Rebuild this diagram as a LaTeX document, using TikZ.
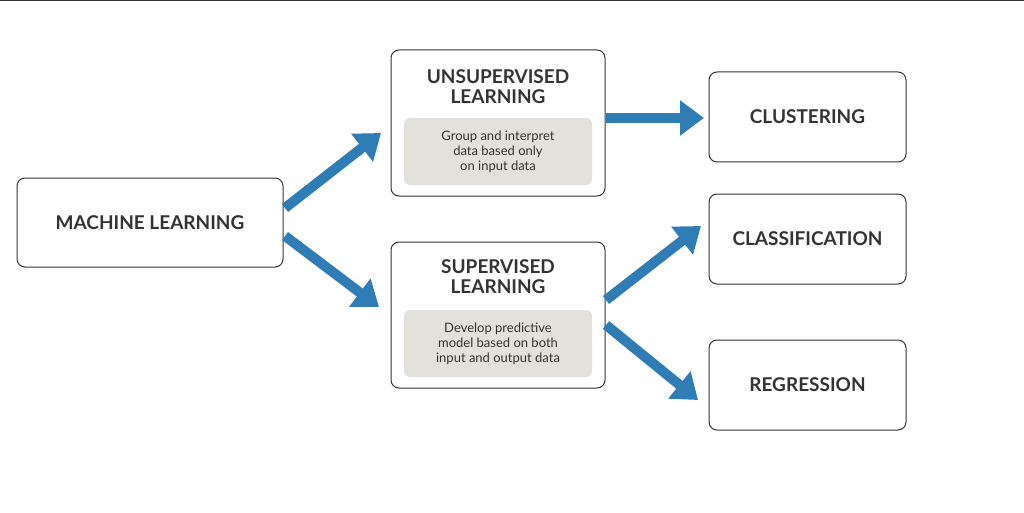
\documentclass[tikz,border=0pt]{standalone}
\usepackage{fontspec}
\setmainfont{Lato}
\usetikzlibrary{arrows.meta}
\definecolor{arrblue}{HTML}{2F7DB4}
\definecolor{boxgray}{HTML}{E3E1DC}
\definecolor{txt}{HTML}{333333}
\begin{document}
\begin{tikzpicture}[x=1pt,y=-1pt,
  box/.style={draw=txt,line width=1pt,rounded corners=8pt,fill=white,inner sep=0pt},
  inner/.style={fill=boxgray,rounded corners=6pt,inner sep=0pt,align=center,text=txt,font=\fontsize{13}{15}\selectfont},
  ttl/.style={text=txt,font=\fontsize{19}{20}\selectfont\bfseries,align=center},
  arr/.style={draw=arrblue,line width=10pt,-{Triangle[length=24pt,width=34pt]}}]
\useasboundingbox (0,0) rectangle (1024,513);
\draw[txt,line width=1pt] (0,0.5) -- (1024,0.5);
\node[box,minimum width=266pt,minimum height=89pt] (ml) at (150,222.5) {};
\node[ttl] at (ml) {MACHINE LEARNING};
\node[box,minimum width=214pt,minimum height=146pt] (un) at (498,123) {};
\node[ttl] (unt) at (498,87) {UNSUPERVISED\\LEARNING};
\node[inner,minimum width=188pt,minimum height=67pt] (uni) at (498,151.5) {Group and interpret\\data based only\\on input data};
\node[box,minimum width=214pt,minimum height=146pt] (su) at (498,315) {};
\node[ttl] (sut) at (498,277) {SUPERVISED\\LEARNING};
\node[inner,minimum width=188pt,minimum height=67pt] (sui) at (498,343.5) {Develop predictive\\model based on both\\input and output data};
\node[box,minimum width=197pt,minimum height=90pt] (cl) at (807.5,117) {};
\node[ttl] at (cl) {CLUSTERING};
\node[box,minimum width=197pt,minimum height=90pt] (ca) at (807.5,239) {};
\node[ttl] at (ca) {CLASSIFICATION};
\node[box,minimum width=197pt,minimum height=90pt] (re) at (807.5,385) {};
\node[ttl] at (re) {REGRESSION};
\coordinate (a1) at (285,208); \coordinate (a2) at (381,133);
\coordinate (b1) at (285,236); \coordinate (b2) at (379,307);
\coordinate (c1) at (606,118); \coordinate (c2) at (704,118);
\coordinate (d1) at (606,300); \coordinate (d2) at (701,226);
\coordinate (e1) at (606,325); \coordinate (e2) at (698,400);
\draw[arr] (a1) -- (a2);
\draw[arr] (b1) -- (b2);
\draw[arr] (c1) -- (c2);
\draw[arr] (d1) -- (d2);
\draw[arr] (e1) -- (e2);
\end{tikzpicture}
\end{document}
